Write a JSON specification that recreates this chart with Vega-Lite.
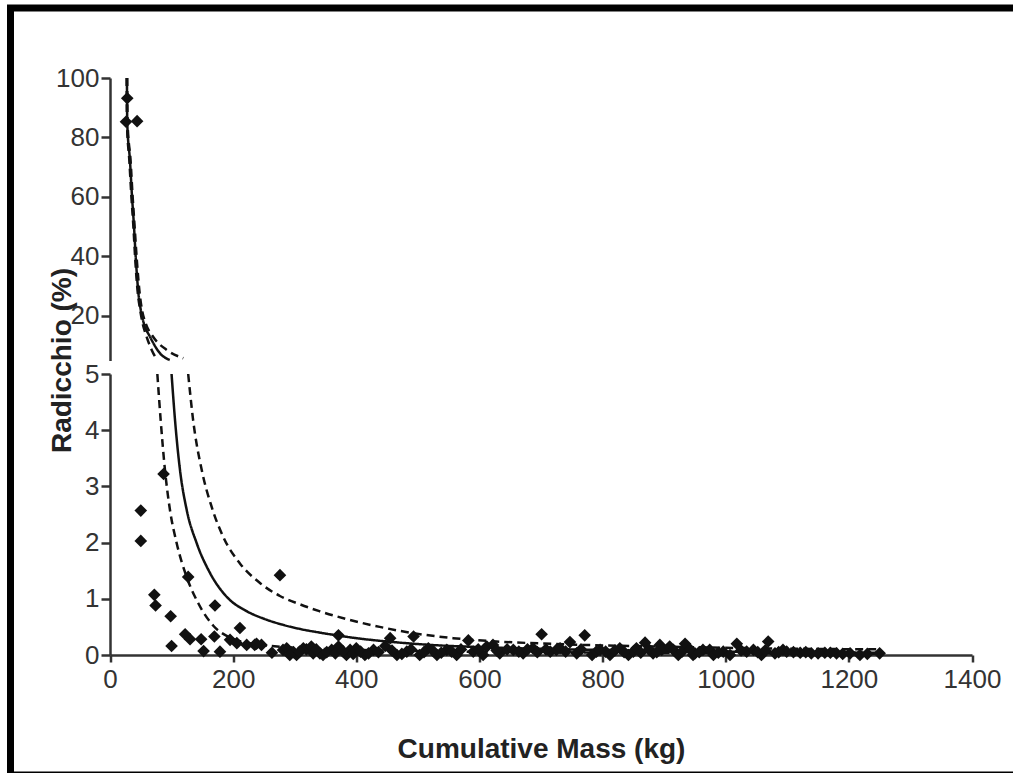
{
  "$schema": "https://vega.github.io/schema/vega-lite/v6.json",
  "width": 1009.5,
  "height": 767,
  "autosize": {"type": "none"},
  "padding": {"left": 10.5, "top": 8, "right": 0, "bottom": 0},
  "background": "white",
  "config": {
    "view": {"stroke": "#000000", "strokeWidth": 7},
    "font": "Liberation Sans",
    "axis": {
      "grid": false,
      "domainColor": "#333333",
      "domainWidth": 2.5,
      "tickColor": "#333333",
      "tickWidth": 2.5,
      "labelFont": "Liberation Sans",
      "labelFontSize": 26,
      "labelColor": "#333333",
      "labelFlush": false,
      "labelBound": false,
      "labelOverlap": false,
      "titleFont": "Liberation Sans",
      "titleFontSize": 28,
      "titleFontWeight": "bold",
      "titleColor": "#222222"
    }
  },
  "datasets": {
    "points": [
      {"mass": 26, "pct": 85.3}, {"mass": 28, "pct": 93.2}, {"mass": 44, "pct": 85.5},
      {"mass": 50, "pct": 2.57}, {"mass": 50, "pct": 2.03}, {"mass": 87, "pct": 3.22},
      {"mass": 72, "pct": 1.07}, {"mass": 74, "pct": 0.88}, {"mass": 98.5, "pct": 0.69},
      {"mass": 100, "pct": 0.16}, {"mass": 127, "pct": 1.39}, {"mass": 122, "pct": 0.37},
      {"mass": 130, "pct": 0.28}, {"mass": 148, "pct": 0.28}, {"mass": 152, "pct": 0.07},
      {"mass": 170.5, "pct": 0.88}, {"mass": 169.5, "pct": 0.33}, {"mass": 178.6, "pct": 0.06},
      {"mass": 211, "pct": 0.48}, {"mass": 195, "pct": 0.27}, {"mass": 206, "pct": 0.21},
      {"mass": 222, "pct": 0.18}, {"mass": 235, "pct": 0.18}, {"mass": 246, "pct": 0.18},
      {"mass": 238, "pct": 0.2}, {"mass": 263, "pct": 0.04}, {"mass": 276, "pct": 1.42},
      {"mass": 281, "pct": 0.09}, {"mass": 287, "pct": 0.12}, {"mass": 298, "pct": 0.05},
      {"mass": 303, "pct": 0.0}, {"mass": 314, "pct": 0.12}, {"mass": 319, "pct": 0.1},
      {"mass": 327, "pct": 0.15}, {"mass": 330, "pct": 0.03}, {"mass": 341, "pct": 0.03},
      {"mass": 346, "pct": 0.0}, {"mass": 360, "pct": 0.09}, {"mass": 371, "pct": 0.35},
      {"mass": 371, "pct": 0.15}, {"mass": 384, "pct": 0.0}, {"mass": 390, "pct": 0.09},
      {"mass": 400, "pct": 0.12}, {"mass": 414, "pct": 0.0}, {"mass": 428, "pct": 0.09},
      {"mass": 447, "pct": 0.16}, {"mass": 455, "pct": 0.3}, {"mass": 466, "pct": 0.0},
      {"mass": 482, "pct": 0.06}, {"mass": 493, "pct": 0.33}, {"mass": 503, "pct": 0.0},
      {"mass": 517, "pct": 0.12}, {"mass": 531, "pct": 0.0}, {"mass": 547, "pct": 0.09},
      {"mass": 563, "pct": 0.0}, {"mass": 582, "pct": 0.26}, {"mass": 590, "pct": 0.06},
      {"mass": 606, "pct": 0.0}, {"mass": 612, "pct": 0.15}, {"mass": 622, "pct": 0.18},
      {"mass": 633, "pct": 0.03}, {"mass": 645, "pct": 0.1}, {"mass": 655, "pct": 0.09},
      {"mass": 671, "pct": 0.03}, {"mass": 687, "pct": 0.12}, {"mass": 701, "pct": 0.37},
      {"mass": 715, "pct": 0.06}, {"mass": 725, "pct": 0.09}, {"mass": 731, "pct": 0.12},
      {"mass": 747, "pct": 0.23}, {"mass": 758, "pct": 0.03}, {"mass": 771, "pct": 0.35},
      {"mass": 783, "pct": 0.0}, {"mass": 790, "pct": 0.06}, {"mass": 796, "pct": 0.09},
      {"mass": 812, "pct": 0.0}, {"mass": 828, "pct": 0.12}, {"mass": 842, "pct": 0.0},
      {"mass": 850, "pct": 0.06}, {"mass": 855, "pct": 0.12}, {"mass": 869, "pct": 0.22},
      {"mass": 882, "pct": 0.03}, {"mass": 893, "pct": 0.18}, {"mass": 896, "pct": 0.09},
      {"mass": 909, "pct": 0.15}, {"mass": 915, "pct": 0.09}, {"mass": 923, "pct": 0.0},
      {"mass": 934, "pct": 0.2}, {"mass": 947, "pct": 0.0}, {"mass": 950, "pct": 0.03},
      {"mass": 963, "pct": 0.09}, {"mass": 974, "pct": 0.09}, {"mass": 980, "pct": 0.0},
      {"mass": 996, "pct": 0.06}, {"mass": 1007, "pct": 0.0}, {"mass": 1018, "pct": 0.2},
      {"mass": 1034, "pct": 0.06}, {"mass": 1045, "pct": 0.09}, {"mass": 1058, "pct": 0.0},
      {"mass": 1069, "pct": 0.24}, {"mass": 1080, "pct": 0.03}, {"mass": 1093, "pct": 0.09},
      {"mass": 1099, "pct": 0.06}, {"mass": 1121, "pct": 0.04}, {"mass": 1139, "pct": 0.03},
      {"mass": 1161, "pct": 0.04}, {"mass": 1180, "pct": 0.03}, {"mass": 1202, "pct": 0.03},
      {"mass": 1218, "pct": 0.0}, {"mass": 1250, "pct": 0.03},
      {"mass": 292, "pct": 0.0}, {"mass": 308, "pct": 0.06}, {"mass": 335, "pct": 0.1},
      {"mass": 352, "pct": 0.05}, {"mass": 366, "pct": 0.03}, {"mass": 378, "pct": 0.07},
      {"mass": 395, "pct": 0.02}, {"mass": 407, "pct": 0.06}, {"mass": 420, "pct": 0.03},
      {"mass": 436, "pct": 0.05}, {"mass": 458, "pct": 0.08}, {"mass": 474, "pct": 0.02},
      {"mass": 489, "pct": 0.1}, {"mass": 510, "pct": 0.05}, {"mass": 524, "pct": 0.08},
      {"mass": 538, "pct": 0.04}, {"mass": 555, "pct": 0.06}, {"mass": 570, "pct": 0.1},
      {"mass": 598, "pct": 0.1}, {"mass": 628, "pct": 0.08}, {"mass": 664, "pct": 0.06},
      {"mass": 678, "pct": 0.1}, {"mass": 694, "pct": 0.05}, {"mass": 708, "pct": 0.1},
      {"mass": 740, "pct": 0.06}, {"mass": 765, "pct": 0.1}, {"mass": 805, "pct": 0.06},
      {"mass": 820, "pct": 0.08}, {"mass": 835, "pct": 0.05}, {"mass": 862, "pct": 0.04},
      {"mass": 875, "pct": 0.1}, {"mass": 888, "pct": 0.05}, {"mass": 929, "pct": 0.06},
      {"mass": 942, "pct": 0.1}, {"mass": 957, "pct": 0.05}, {"mass": 988, "pct": 0.04},
      {"mass": 1025, "pct": 0.08}, {"mass": 1052, "pct": 0.05}, {"mass": 1064, "pct": 0.08},
      {"mass": 1086, "pct": 0.05}, {"mass": 1110, "pct": 0.05}, {"mass": 1130, "pct": 0.05},
      {"mass": 1150, "pct": 0.03}, {"mass": 1170, "pct": 0.04}, {"mass": 1190, "pct": 0.02},
      {"mass": 1230, "pct": 0.02}
    ],
    "curves": [
      {"curve": "fit", "mass": 27.5, "pct": 100}, {"curve": "fit", "mass": 28, "pct": 85},
      {"curve": "fit", "mass": 32.5, "pct": 72}, {"curve": "fit", "mass": 35.5, "pct": 61},
      {"curve": "fit", "mass": 39, "pct": 50}, {"curve": "fit", "mass": 42, "pct": 39},
      {"curve": "fit", "mass": 46, "pct": 28}, {"curve": "fit", "mass": 50, "pct": 22},
      {"curve": "fit", "mass": 55, "pct": 17.5}, {"curve": "fit", "mass": 65, "pct": 13},
      {"curve": "fit", "mass": 81, "pct": 7.5}, {"curve": "fit", "mass": 97, "pct": 5.2},
      {"curve": "fit", "mass": 100, "pct": 5.0}, {"curve": "fit", "mass": 105.6, "pct": 4.18},
      {"curve": "fit", "mass": 113.7, "pct": 3.29}, {"curve": "fit", "mass": 124.6, "pct": 2.58},
      {"curve": "fit", "mass": 140.8, "pct": 1.99}, {"curve": "fit", "mass": 162.4, "pct": 1.46},
      {"curve": "fit", "mass": 190, "pct": 1.03}, {"curve": "fit", "mass": 222, "pct": 0.78},
      {"curve": "fit", "mass": 250, "pct": 0.645}, {"curve": "fit", "mass": 280, "pct": 0.54},
      {"curve": "fit", "mass": 310, "pct": 0.46}, {"curve": "fit", "mass": 340, "pct": 0.4},
      {"curve": "fit", "mass": 368, "pct": 0.35}, {"curve": "fit", "mass": 411, "pct": 0.285},
      {"curve": "fit", "mass": 455, "pct": 0.235}, {"curve": "fit", "mass": 520, "pct": 0.18},
      {"curve": "fit", "mass": 601, "pct": 0.14}, {"curve": "fit", "mass": 700, "pct": 0.11},
      {"curve": "fit", "mass": 800, "pct": 0.09}, {"curve": "fit", "mass": 900, "pct": 0.07},
      {"curve": "fit", "mass": 1000, "pct": 0.06}, {"curve": "fit", "mass": 1100, "pct": 0.05},
      {"curve": "fit", "mass": 1250, "pct": 0.04},
      {"curve": "lower", "mass": 27, "pct": 100}, {"curve": "lower", "mass": 27.5, "pct": 85},
      {"curve": "lower", "mass": 31.5, "pct": 72}, {"curve": "lower", "mass": 34.5, "pct": 61},
      {"curve": "lower", "mass": 38, "pct": 50}, {"curve": "lower", "mass": 41, "pct": 39},
      {"curve": "lower", "mass": 45, "pct": 28}, {"curve": "lower", "mass": 49, "pct": 22},
      {"curve": "lower", "mass": 53, "pct": 17.5}, {"curve": "lower", "mass": 59.5, "pct": 13},
      {"curve": "lower", "mass": 67.7, "pct": 8.6}, {"curve": "lower", "mass": 74.7, "pct": 5.8},
      {"curve": "lower", "mass": 76.9, "pct": 5.0}, {"curve": "lower", "mass": 82.3, "pct": 4.18},
      {"curve": "lower", "mass": 89.3, "pct": 3.29}, {"curve": "lower", "mass": 97.4, "pct": 2.58},
      {"curve": "lower", "mass": 108.3, "pct": 1.99}, {"curve": "lower", "mass": 124.5, "pct": 1.39},
      {"curve": "lower", "mass": 143.4, "pct": 0.92}, {"curve": "lower", "mass": 167.8, "pct": 0.52},
      {"curve": "lower", "mass": 195, "pct": 0.31}, {"curve": "lower", "mass": 227, "pct": 0.21},
      {"curve": "lower", "mass": 300, "pct": 0.13}, {"curve": "lower", "mass": 400, "pct": 0.09},
      {"curve": "lower", "mass": 500, "pct": 0.07}, {"curve": "lower", "mass": 700, "pct": 0.05},
      {"curve": "lower", "mass": 1000, "pct": 0.03}, {"curve": "lower", "mass": 1250, "pct": 0.02},
      {"curve": "upper", "mass": 28, "pct": 100}, {"curve": "upper", "mass": 28.5, "pct": 85},
      {"curve": "upper", "mass": 33.5, "pct": 72}, {"curve": "upper", "mass": 36.5, "pct": 61},
      {"curve": "upper", "mass": 40, "pct": 50}, {"curve": "upper", "mass": 43.5, "pct": 39},
      {"curve": "upper", "mass": 48, "pct": 28}, {"curve": "upper", "mass": 52, "pct": 22},
      {"curve": "upper", "mass": 58, "pct": 17.5}, {"curve": "upper", "mass": 70, "pct": 13},
      {"curve": "upper", "mass": 92, "pct": 8.6}, {"curve": "upper", "mass": 119, "pct": 5.8},
      {"curve": "upper", "mass": 127, "pct": 5.0}, {"curve": "upper", "mass": 135, "pct": 4.18},
      {"curve": "upper", "mass": 149, "pct": 3.29}, {"curve": "upper", "mass": 165, "pct": 2.64},
      {"curve": "upper", "mass": 184, "pct": 2.1}, {"curve": "upper", "mass": 211, "pct": 1.63},
      {"curve": "upper", "mass": 243.6, "pct": 1.28}, {"curve": "upper", "mass": 276, "pct": 1.05},
      {"curve": "upper", "mass": 309, "pct": 0.9}, {"curve": "upper", "mass": 340, "pct": 0.78},
      {"curve": "upper", "mass": 384, "pct": 0.64}, {"curve": "upper", "mass": 438, "pct": 0.5},
      {"curve": "upper", "mass": 492, "pct": 0.39}, {"curve": "upper", "mass": 557, "pct": 0.3},
      {"curve": "upper", "mass": 628, "pct": 0.24}, {"curve": "upper", "mass": 700, "pct": 0.205},
      {"curve": "upper", "mass": 768, "pct": 0.18}, {"curve": "upper", "mass": 900, "pct": 0.15},
      {"curve": "upper", "mass": 1050, "pct": 0.12}, {"curve": "upper", "mass": 1250, "pct": 0.1}
    ]
  },
  "encoding": {
    "x": {
      "field": "mass",
      "type": "quantitative",
      "scale": {"domain": [0, 1400], "range": [99.5, 961.5], "nice": false, "zero": false},
      "axis": {
        "orient": "bottom",
        "offset": -120,
        "values": [0, 200, 400, 600, 800, 1000, 1200, 1400],
        "format": "d",
        "tickSize": 7,
        "labelPadding": 4,
        "title": "Cumulative Mass (kg)",
        "titleY": 102,
        "titleBaseline": "alphabetic"
      }
    }
  },
  "layer": [
    {
      "encoding": {
        "y": {
          "field": "pct",
          "type": "quantitative",
          "scale": {"domain": [0, 5], "range": [647, 366], "nice": false, "zero": false},
          "axis": {
            "orient": "left",
            "offset": -99.5,
            "values": [0, 1, 2, 3, 4, 5],
            "tickSize": 9,
            "labelPadding": 2,
            "title": "Radicchio (%)",
            "titleX": -48,
            "titleY": 352,
            "titleAngle": -90,
            "titleAlign": "center",
            "titleBaseline": "middle"
          }
        }
      },
      "layer": [
        {
          "data": {"name": "curves"},
          "transform": [{"filter": "datum.pct <= 5.05"}],
          "mark": {"type": "line", "color": "#111111", "strokeWidth": 2.5, "interpolate": "monotone"},
          "encoding": {
            "detail": {"field": "curve"},
            "strokeDash": {
              "field": "curve",
              "type": "nominal",
              "scale": {"domain": ["fit", "lower", "upper"], "range": [[1, 0], [8, 5], [8, 5]]},
              "legend": null
            }
          }
        },
        {
          "data": {"name": "points"},
          "transform": [{"filter": "datum.pct <= 5"}],
          "mark": {"type": "point", "shape": "diamond", "filled": true, "color": "#111111", "size": 160, "opacity": 1}
        }
      ]
    },
    {
      "encoding": {
        "y": {
          "field": "pct",
          "type": "quantitative",
          "scale": {"domain": [5, 100], "range": [352.6, 70], "nice": false, "zero": false},
          "axis": {
            "orient": "left",
            "offset": -99.5,
            "values": [20, 40, 60, 80, 100],
            "tickSize": 9,
            "labelPadding": 2,
            "title": null
          }
        }
      },
      "layer": [
        {
          "data": {"name": "curves"},
          "transform": [{"filter": "datum.pct >= 5.15"}],
          "mark": {"type": "line", "color": "#111111", "strokeWidth": 2.5, "interpolate": "monotone"},
          "encoding": {
            "detail": {"field": "curve"},
            "strokeDash": {
              "field": "curve",
              "type": "nominal",
              "scale": {"domain": ["fit", "lower", "upper"], "range": [[1, 0], [8, 5], [8, 5]]},
              "legend": null
            }
          }
        },
        {
          "data": {"name": "points"},
          "transform": [{"filter": "datum.pct > 5"}],
          "mark": {"type": "point", "shape": "diamond", "filled": true, "color": "#111111", "size": 160, "opacity": 1}
        }
      ]
    }
  ],
  "resolve": {"scale": {"y": "independent"}}
}
